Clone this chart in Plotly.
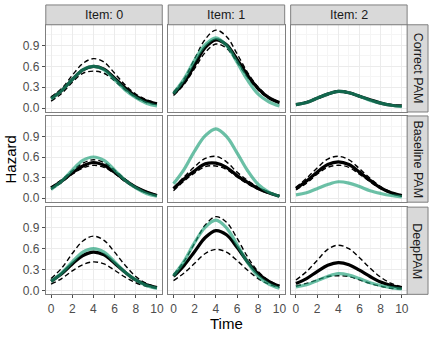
import plotly.graph_objects as go
from plotly.subplots import make_subplots

W, H = 436, 337

time = [0, 1, 2, 3, 4, 5, 6, 7, 8, 9, 10]
items = ["Item: 0", "Item: 1", "Item: 2"]
models = ["Correct PAM", "Baseline PAM", "DeepPAM"]

# true hazard per item
truth_item0 = [0.13, 0.25, 0.41, 0.55, 0.60, 0.55, 0.41, 0.26, 0.15, 0.07, 0.03]
truth_item1 = [0.21, 0.42, 0.69, 0.91, 1.01, 0.90, 0.66, 0.40, 0.20, 0.09, 0.03]
truth_item2 = [0.05, 0.08, 0.14, 0.20, 0.24, 0.22, 0.17, 0.11, 0.07, 0.04, 0.02]

# Correct PAM
cpam0_est = [0.14, 0.25, 0.41, 0.55, 0.60, 0.56, 0.43, 0.29, 0.17, 0.10, 0.06]
cpam0_hi = [0.16, 0.28, 0.47, 0.64, 0.71, 0.66, 0.50, 0.33, 0.20, 0.12, 0.07]
cpam0_lo = [0.10, 0.21, 0.37, 0.50, 0.53, 0.50, 0.39, 0.26, 0.15, 0.08, 0.05]
cpam1_est = [0.20, 0.37, 0.62, 0.87, 0.98, 0.91, 0.70, 0.47, 0.28, 0.15, 0.08]
cpam1_hi = [0.23, 0.42, 0.71, 0.99, 1.12, 1.03, 0.78, 0.51, 0.30, 0.16, 0.09]
cpam1_lo = [0.18, 0.34, 0.57, 0.80, 0.92, 0.86, 0.66, 0.44, 0.26, 0.14, 0.07]
cpam2_est = [0.05, 0.08, 0.14, 0.20, 0.24, 0.22, 0.17, 0.12, 0.07, 0.04, 0.03]
cpam2_hi = [0.05, 0.09, 0.15, 0.21, 0.25, 0.23, 0.18, 0.12, 0.08, 0.05, 0.03]
cpam2_lo = [0.04, 0.08, 0.13, 0.19, 0.23, 0.21, 0.16, 0.11, 0.07, 0.04, 0.02]

# Baseline PAM
bpam0_est = [0.15, 0.25, 0.37, 0.47, 0.52, 0.48, 0.38, 0.26, 0.16, 0.09, 0.04]
bpam0_hi = [0.16, 0.27, 0.40, 0.51, 0.56, 0.52, 0.41, 0.28, 0.17, 0.10, 0.05]
bpam0_lo = [0.13, 0.23, 0.35, 0.44, 0.48, 0.45, 0.36, 0.24, 0.15, 0.08, 0.04]
bpam1_est = [0.14, 0.28, 0.40, 0.50, 0.51, 0.45, 0.33, 0.23, 0.14, 0.08, 0.03]
bpam1_hi = [0.15, 0.31, 0.46, 0.58, 0.61, 0.53, 0.38, 0.26, 0.16, 0.09, 0.04]
bpam1_lo = [0.11, 0.25, 0.37, 0.46, 0.47, 0.42, 0.31, 0.21, 0.13, 0.07, 0.03]
bpam2_est = [0.14, 0.25, 0.38, 0.49, 0.53, 0.49, 0.38, 0.26, 0.15, 0.08, 0.04]
bpam2_hi = [0.16, 0.29, 0.44, 0.57, 0.61, 0.56, 0.43, 0.29, 0.17, 0.09, 0.05]
bpam2_lo = [0.12, 0.22, 0.35, 0.45, 0.48, 0.45, 0.35, 0.24, 0.14, 0.07, 0.03]

# DeepPAM
deep0_est = [0.13, 0.24, 0.38, 0.50, 0.55, 0.51, 0.39, 0.26, 0.15, 0.08, 0.04]
deep0_hi = [0.17, 0.32, 0.53, 0.71, 0.78, 0.72, 0.55, 0.36, 0.20, 0.10, 0.05]
deep0_lo = [0.09, 0.17, 0.28, 0.37, 0.41, 0.38, 0.29, 0.19, 0.11, 0.06, 0.03]
deep1_est = [0.20, 0.36, 0.56, 0.76, 0.86, 0.80, 0.62, 0.41, 0.24, 0.13, 0.06]
deep1_hi = [0.23, 0.42, 0.68, 0.94, 1.06, 0.98, 0.75, 0.48, 0.27, 0.14, 0.07]
deep1_lo = [0.14, 0.25, 0.39, 0.53, 0.59, 0.55, 0.43, 0.29, 0.17, 0.09, 0.04]
deep2_est = [0.10, 0.17, 0.27, 0.36, 0.40, 0.37, 0.29, 0.20, 0.12, 0.07, 0.04]
deep2_hi = [0.15, 0.27, 0.43, 0.59, 0.65, 0.60, 0.47, 0.32, 0.19, 0.10, 0.05]
deep2_lo = [0.06, 0.10, 0.15, 0.20, 0.21, 0.20, 0.15, 0.10, 0.06, 0.03, 0.02]

panels = [
    (1, 1, truth_item0, cpam0_est, cpam0_lo, cpam0_hi),
    (1, 2, truth_item1, cpam1_est, cpam1_lo, cpam1_hi),
    (1, 3, truth_item2, cpam2_est, cpam2_lo, cpam2_hi),
    (2, 1, truth_item0, bpam0_est, bpam0_lo, bpam0_hi),
    (2, 2, truth_item1, bpam1_est, bpam1_lo, bpam1_hi),
    (2, 3, truth_item2, bpam2_est, bpam2_lo, bpam2_hi),
    (3, 1, truth_item0, deep0_est, deep0_lo, deep0_hi),
    (3, 2, truth_item1, deep1_est, deep1_lo, deep1_hi),
    (3, 3, truth_item2, deep2_est, deep2_lo, deep2_hi),
]

# panel edges in pixels
col_px = [(46, 163), (169, 286), (292, 409)]
row_px = [(25, 113), (117, 204), (209, 297)]
strip_top = 5
strip_right = 430

green = "rgba(27,158,119,0.65)"
border = "#7f7f7f"
font = "Liberation Sans"

fig = make_subplots(rows=3, cols=3)

for r, c, tru, est, lo, hi in panels:
    for band in (lo, hi):
        fig.add_trace(go.Scatter(x=time, y=band, mode="lines",
                                 line=dict(color="black", width=1.4, dash="5px,3px", shape="spline"),
                                 showlegend=False, hoverinfo="skip"), row=r, col=c)
    fig.add_trace(go.Scatter(x=time, y=est, mode="lines", line=dict(color="black", width=3.2, shape="spline"),
                             showlegend=False), row=r, col=c)
    fig.add_trace(go.Scatter(x=time, y=tru, mode="lines", line=dict(color=green, width=3.2, shape="spline"),
                             showlegend=False), row=r, col=c)

for r in range(1, 4):
    for c in range(1, 4):
        x0, x1 = col_px[c - 1]
        y0, y1 = row_px[r - 1]
        fig.update_xaxes(domain=[x0 / W, x1 / W], range=[-0.5, 10.5], tick0=0, dtick=2,
                         showgrid=True, gridcolor="#ebebeb", gridwidth=1,
                         minor=dict(dtick=1, showgrid=True, gridcolor="#f5f5f5", gridwidth=1),
                         showline=True, mirror=True, linecolor=border, linewidth=1,
                         zeroline=False, showticklabels=(r == 3), ticks="outside" if r == 3 else "",
                         ticklen=3, tickcolor="#4d4d4d",
                         tickfont=dict(family=font, size=12, color="#4d4d4d"), row=r, col=c)
        fig.update_yaxes(domain=[1 - y1 / H, 1 - y0 / H], range=[-0.057, 1.197], tick0=0, dtick=0.3,
                         tickformat=".1f", showgrid=True, gridcolor="#ebebeb", gridwidth=1,
                         minor=dict(dtick=0.15, showgrid=True, gridcolor="#f5f5f5", gridwidth=1),
                         showline=True, mirror=True, linecolor=border, linewidth=1,
                         zeroline=False, showticklabels=(c == 1), ticks="outside" if c == 1 else "",
                         ticklen=3, tickcolor="#4d4d4d",
                         tickfont=dict(family=font, size=12, color="#4d4d4d"), row=r, col=c)

shapes = []
annotations = []
for i, (x0, x1) in enumerate(col_px):
    shapes.append(dict(type="rect", xref="paper", yref="paper", x0=x0 / W, x1=x1 / W,
                       y0=1 - row_px[0][0] / H, y1=1 - strip_top / H,
                       fillcolor="#d9d9d9", line=dict(color=border, width=1)))
    annotations.append(dict(text=items[i], xref="paper", yref="paper", x=(x0 + x1) / 2 / W,
                            y=1 - (strip_top + row_px[0][0]) / 2 / H, xanchor="center", yanchor="middle",
                            showarrow=False, font=dict(family=font, size=12.5, color="#1a1a1a")))
for j, (y0, y1) in enumerate(row_px):
    shapes.append(dict(type="rect", xref="paper", yref="paper", x0=col_px[2][1] / W, x1=strip_right / W,
                       y0=1 - y1 / H, y1=1 - y0 / H,
                       fillcolor="#d9d9d9", line=dict(color=border, width=1)))
    annotations.append(dict(text=models[j], xref="paper", yref="paper",
                            x=(col_px[2][1] + strip_right) / 2 / W, y=1 - (y0 + y1) / 2 / H,
                            xanchor="center", yanchor="middle", showarrow=False, textangle=90,
                            font=dict(family=font, size=12.5, color="#1a1a1a")))

annotations.append(dict(text="Time", xref="paper", yref="paper", x=(col_px[0][0] + col_px[2][1]) / 2 / W,
                        y=1 - 326 / H, xanchor="center", yanchor="middle", showarrow=False,
                        font=dict(family=font, size=15, color="black")))
annotations.append(dict(text="Hazard", xref="paper", yref="paper", x=11 / W,
                        y=1 - (row_px[0][0] + row_px[2][1]) / 2 / H, xanchor="center", yanchor="middle",
                        showarrow=False, textangle=-90, font=dict(family=font, size=15, color="black")))

fig.update_layout(width=W, height=H, margin=dict(l=0, r=0, t=0, b=0),
                  plot_bgcolor="white", paper_bgcolor="white",
                  shapes=shapes, annotations=annotations, showlegend=False)

fig.write_html("out.html", config={"displayModeBar": False},
               post_script="document.body.style.margin='0px';")
